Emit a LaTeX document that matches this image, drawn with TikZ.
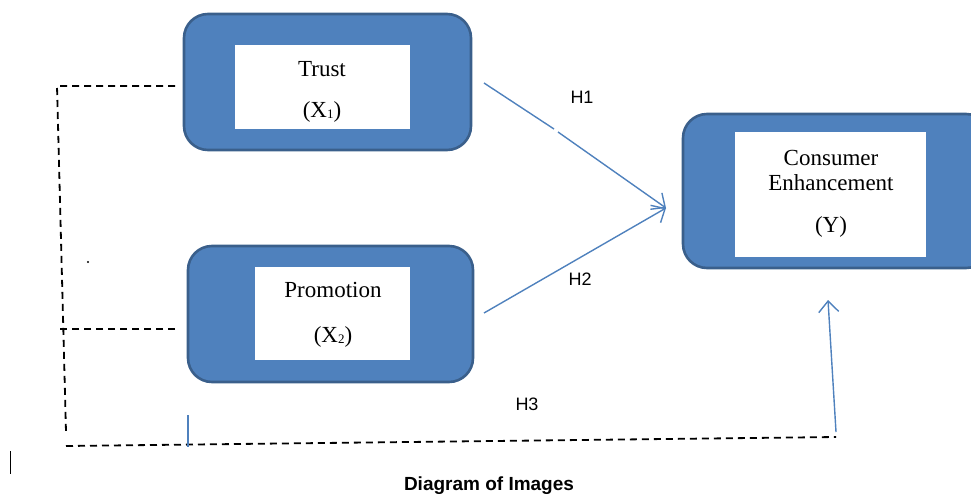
\documentclass[tikz,border=0pt]{standalone}
\usepackage{fontspec}
\setmainfont{Liberation Serif}
\newfontfamily\labelfont{Liberation Sans}
\usetikzlibrary{arrows.meta}
\definecolor{boxfill}{HTML}{4F81BD}
\definecolor{boxedge}{HTML}{3A5F8B}
\definecolor{linkblue}{HTML}{4F81BD}
\newcommand{\subidx}[1]{\raisebox{-0.15ex}{\fontsize{13}{13}\selectfont #1}}
\begin{document}
\begin{tikzpicture}[x=1pt,y=-1pt,
  outerbox/.style={draw=boxedge,line width=2.6pt,fill=boxfill,rounded corners=24pt},
  innerbox/.style={fill=white},
  boxtext/.style={font=\fontsize{23}{26}\selectfont,inner sep=0pt,anchor=base},
  hyp/.style={font=\labelfont\fontsize{18}{20}\selectfont,inner sep=0pt,anchor=base},
  link/.style={draw=linkblue,line width=1.4pt},
  linkarrow/.style={link,-{Straight Barb[length=11pt,width=20pt,line width=1.4pt]}},
  dashline/.style={draw=black,line width=1.8pt,dash pattern=on 7pt off 5pt}
]
\useasboundingbox (0,0) rectangle (971,493);
\clip (0,0) rectangle (971,493);

% variable boxes
\draw[outerbox] (184,14) rectangle (471,150);
\fill[innerbox] (235,45) rectangle (410,129);
\draw[outerbox] (188,246) rectangle (473,382);
\fill[innerbox] (255,267) rectangle (410,360);
\draw[outerbox] (683,114) rectangle (990,268);
\fill[innerbox] (735,132) rectangle (926,257);

% box texts
\node[boxtext] (trust) at (322,76) {Trust};
\node[boxtext] (x1) at (322,117) {(X\subidx{1})};
\node[boxtext] (promo) at (333,297) {Promotion};
\node[boxtext] (x2) at (333,342) {(X\subidx{2})};
\node[boxtext] (cons) at (831,165) {Consumer};
\node[boxtext] (enh) at (831,190) {Enhancement};
\node[boxtext] (yv) at (831,232) {(Y)};

% hypothesis labels
\node[hyp] (h1) at (582,103) {H1};
\node[hyp] (h2) at (580,285) {H2};
\node[hyp] (h3) at (527,410) {H3};

% caption
\node[font=\labelfont\bfseries\fontsize{19}{22}\selectfont,inner sep=0pt,anchor=base] (cap) at (489,490) {Diagram of Images};

% path end points
\coordinate (a1s) at (484,83);
\coordinate (a1g) at (554,129);
\coordinate (a1r) at (558,132);
\coordinate (tip) at (666,208);
\coordinate (a2s) at (484,313);
\coordinate (a3s) at (836,432);
\coordinate (a3t) at (828,300);

% hypothesis arrows
\draw[link] (a1s) -- (a1g);
\draw[linkarrow] (a1r) -- (tip);
\draw[linkarrow] (a2s) -- (tip);
\draw[linkarrow] (a3s) -- (a3t);

% dashed moderating frame
\coordinate (d1) at (175,86);
\coordinate (d2) at (57,86);
\coordinate (d3) at (175,329);
\coordinate (d4) at (59,329);
\coordinate (d5) at (66,432);
\coordinate (d6) at (66,446);
\coordinate (d7) at (836,437);
\draw[dashline] (d1) -- (d2) -- (d5);
\draw[dashline] (d3) -- (d4);
\draw[dashline] (d6) -- (d7);

% stray marks
\draw[linkblue,line width=1.4pt] (188,415) -- (188,447);
\fill[black] (88,262) circle (1.1pt);
\draw[black,line width=1pt] (10,451) -- (10,474);
\end{tikzpicture}
\end{document}
